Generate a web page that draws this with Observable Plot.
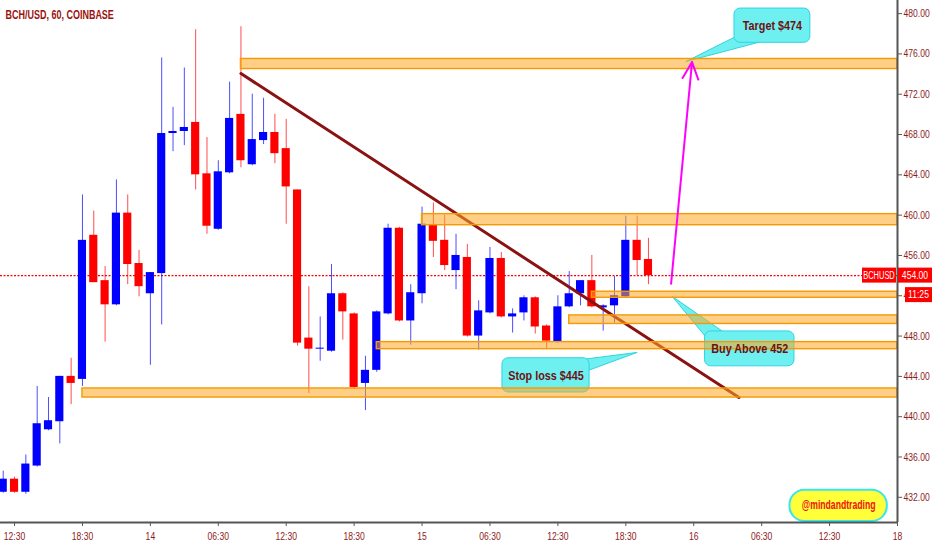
<!DOCTYPE html>
<html><head><meta charset="utf-8">
<script src="https://cdn.jsdelivr.net/npm/d3@7"></script>
<script src="https://cdn.jsdelivr.net/npm/@observablehq/plot@0.6"></script>
<style>
html,body{margin:0;padding:0;background:#fff;}
#chart{width:932px;height:550px;overflow:hidden;}
</style></head><body><div id="chart"></div>
<script>
// ---- data ----
const barIndex = d3.range(-1, 57); // hourly bars, 0 = 13th 12:30
const opens  = [432.5,433.8,432.5,435.1,438.7,439.5,444.0,443.7,458.0,453.5,451.1,460.2,455.2,452.2,454.2,468.1,468.3,469.2,464.1,458.6,464.2,470.0,465.0,467.4,468.2,466.6,462.5,447.8,446.7,446.5,452.2,450.2,443.3,444.6,450.2,458.7,449.5,452.2,459.0,457.5,454.5,455.8,448.0,450.3,455.7,449.9,450.3,451.8,449.0,447.4,450.9,452.2,453.5,450.8,451.0,451.9,457.5,455.6];
const highs  = [434.6,434.0,436.2,443.0,441.9,444.0,445.8,462.0,460.4,454.9,463.5,462.0,456.5,454.3,475.6,470.7,474.6,478.4,467.7,465.4,473.2,478.7,472.0,471.6,470.0,469.5,462.5,452.9,449.9,455.1,452.3,450.3,446.0,450.5,459.1,458.8,453.1,460.8,461.2,460.0,458.1,457.1,451.5,456.8,456.3,450.7,452.0,451.9,449.1,452.0,454.4,453.5,456.0,451.1,453.9,459.9,459.9,457.7];
const lows   = [432.4,432.4,432.3,435.0,438.6,437.3,441.2,443.0,453.3,447.4,451.0,453.1,451.9,445.1,449.1,466.3,466.9,462.5,458.1,458.5,464.1,464.7,464.9,467.0,465.1,459.1,447.0,442.3,445.5,446.4,447.6,442.7,440.6,444.4,450.1,449.4,447.1,451.2,455.8,454.5,452.6,447.9,446.6,450.2,449.8,448.3,449.5,448.2,446.7,447.3,450.8,451.0,450.8,448.5,449.3,451.8,454.0,453.1];
const closes = [433.8,432.5,435.3,439.3,439.6,444.0,443.3,457.5,453.3,451.1,460.2,455.1,452.9,454.3,468.1,468.3,468.7,464.0,458.9,464.3,469.6,465.4,467.5,468.2,466.1,462.8,447.3,446.7,446.8,452.2,450.4,442.9,444.6,450.4,458.7,449.5,452.3,459.1,457.4,455.0,456.0,448.0,450.5,455.7,449.9,450.2,451.8,448.9,447.5,450.9,452.2,453.5,450.9,451.0,452.0,457.5,455.5,454.0];
const lastPrice = 454.00;
const countdown = "11:25";
const symbol = "BCHUSD";
const titleText = "BCH/USD, 60, COINBASE";

const xTickIndex  = [0, 6, 12, 18, 24, 30, 36, 42, 48, 54, 60, 66, 72, 78];
const xTickLabels = ["12:30","18:30","14","06:30","12:30","18:30","15","06:30","12:30","18:30","16","06:30","12:30","18"];
const yTicks = [432, 436, 440, 444, 448, 452, 456, 460, 464, 468, 472, 476, 480];

// horizontal zones (start bar, low, high) extending to the right edge
const zoneStart = [20, 36, 51, 49, 32, 6];
const zoneLow   = [474.5, 459.0, 451.8, 449.2, 446.7, 441.9];
const zoneHigh  = [475.5, 460.1, 452.4, 450.05, 447.4, 442.8];

// trend line
const trendBar   = [20, 64];
const trendPrice = [474.05, 441.9];

// projection arrow
const arrowBar   = [58, 59.85];
const arrowPrice = [453.2, 475.2];

// callouts
const calloutText  = ["Target $474", "Buy Above 452", "Stop loss $445"];
const calloutBar1  = [63.6, 61.0, 43.1];
const calloutBar2  = [70.3, 68.9, 50.8];
const calloutLow   = [477.1, 445.0, 442.4];
const calloutHigh  = [480.5, 448.46, 445.8];
const calloutTipBar   = [59.3, 58.1, 55.0];
const calloutTipPrice = [475.24, 451.93, 446.38];
const calloutBaseBar   = [[64.2, 65.9], [61.3, 62.7], [49.6, 50.7]];
const calloutBasePrice = [[478.0, 477.2], [447.6, 448.35], [445.6, 444.6]];

const badgeText = "@mindandtrading";
const badgeBar = [68.5, 77.1];
const badgePrice = [429.6, 432.7];

// ---- build ----
const FONT = "'Liberation Sans',Arial,sans-serif";
const UP = "#0000ff", DOWN = "#ff0000";
const AXISTEXT = "#8e1b1b";

const bars = barIndex.map((i, k) => ({i, open: opens[k], high: highs[k], low: lows[k], close: closes[k],
  color: closes[k] >= opens[k] ? UP : DOWN}));
const zones = zoneStart.map((s, k) => ({x1: s, x2: 78, y1: zoneLow[k], y2: zoneHigh[k]}));
const trend = trendBar.map((b, k) => ({x: b, y: trendPrice[k]}));
const callouts = calloutText.map((t, k) => ({text: t, x1: calloutBar1[k], x2: calloutBar2[k], y1: calloutLow[k], y2: calloutHigh[k],
  cx: (calloutBar1[k] + calloutBar2[k]) / 2, cy: (calloutLow[k] + calloutHigh[k]) / 2}));
const tails = [];
calloutText.forEach((t, k) => {
  tails.push({id: k, x: calloutBaseBar[k][0], y: calloutBasePrice[k][0]});
  tails.push({id: k, x: calloutTipBar[k], y: calloutTipPrice[k]});
  tails.push({id: k, x: calloutBaseBar[k][1], y: calloutBasePrice[k][1]});
});
const labelMap = new Map(xTickIndex.map((d, k) => [d, xTickLabels[k]]));
const CYAN = "#6ef0f0", CYANS = "#2fd3e3";

const chart = Plot.plot({
  width: 932, height: 550,
  marginLeft: 0, marginTop: 0, marginRight: 35, marginBottom: 28,
  x: {domain: [-1.24, 78], axis: null},
  y: {domain: [429.5, 481.3], axis: null},
  color: {type: "identity"},
  style: {background: "#fff", fontFamily: FONT, overflow: "visible"},
  marks: [
    Plot.ruleY([lastPrice], {stroke: "#ff0000", strokeWidth: 1.3, strokeDasharray: "2,1.5"}),
    Plot.ruleX(bars, {x: "i", y1: "low", y2: "high", stroke: "color", strokeWidth: 1, strokeOpacity: 0.7}),
    Plot.rect(bars, {x1: d => d.i - 0.36, x2: d => d.i + 0.36, y1: "open", y2: "close", fill: "color"}),
    Plot.line(trend, {x: "x", y: "y", stroke: "#8b1212", strokeWidth: 3}),
    Plot.line(tails, {x: "x", y: "y", z: "id", fill: CYAN, stroke: CYANS, strokeWidth: 1, curve: "linear"}),
    Plot.rect(callouts, {x1: "x1", x2: "x2", y1: "y1", y2: "y2", fill: CYAN, stroke: CYANS, strokeWidth: 1, rx: 6}),
    Plot.rect(zones, {x1: "x1", x2: "x2", y1: "y1", y2: "y2", fill: "#ffa726", fillOpacity: 0.55, stroke: "#f59a00", strokeWidth: 1.4}),
    Plot.arrow([0], {x1: () => arrowBar[0], y1: () => arrowPrice[0], x2: () => arrowBar[1], y2: () => arrowPrice[1],
      stroke: "#ff00ff", strokeWidth: 2, headLength: 14, headAngle: 50}),
    Plot.text(callouts, {x: "cx", y: "cy", text: "text", fill: "#6e1010", fontSize: 13.5, fontWeight: "bold"}),
    Plot.rect([0], {x1: () => badgeBar[0], x2: () => badgeBar[1], y1: () => badgePrice[0], y2: () => badgePrice[1],
      fill: "#ffff3a", stroke: "#38e6f0", strokeWidth: 2, rx: 15}),
    Plot.text([badgeText], {x: (badgeBar[0] + badgeBar[1]) / 2, y: (badgePrice[0] + badgePrice[1]) / 2 + 0.1, text: d => d,
      fill: "#ee1111", fontSize: 12, fontWeight: "bold"}),
    Plot.text([titleText], {frameAnchor: "top-left", dx: 5, dy: 10, text: d => d, fill: "#9b1111", fontSize: 12.5, fontWeight: "bold"}),
    Plot.ruleY([429.5], {stroke: "#555", strokeWidth: 2}),
    Plot.ruleX([78], {stroke: "#555", strokeWidth: 2}),
    Plot.axisX({ticks: xTickIndex, tickFormat: d => labelMap.get(d), tickSize: 4, tickPadding: 6, fontSize: 11,
      stroke: "#555", fill: AXISTEXT}),
    Plot.axisY({anchor: "right", ticks: yTicks, tickFormat: d => d.toFixed(2), tickSize: 4, tickPadding: 2, fontSize: 11,
      stroke: "#555", fill: AXISTEXT})
  ]
});
document.getElementById("chart").appendChild(chart);

// price tags using the plot's own scales
const ys = chart.scale("y"), xs = chart.scale("x");
const yP = ys.apply(lastPrice);
const xR = xs.range[1];
const svg = d3.select(chart);
const tags = svg.append("g").attr("font-family", FONT).attr("font-size", 11);
function tag(x0, x1, yc, txt) {
  tags.append("rect").attr("x", x0).attr("y", yc - 7.5).attr("width", x1 - x0).attr("height", 15).attr("fill", "#ff0000");
  tags.append("text").attr("x", (x0 + x1) / 2).attr("y", yc).attr("dy", "0.35em").attr("text-anchor", "middle")
    .attr("fill", "#fff").text(txt);
}
tag(xR - 35, xR - 1, yP, symbol);
tag(xR + 1, xR + 35, yP, lastPrice.toFixed(2));
tag(xR + 8, xR + 35, yP + 19.5, countdown);

// narrow the lettering horizontally (the original uses a condensed face)
const squeeze = {"BCHUSD": 0.68, "@mindandtrading": 0.72, "Target $474": 0.8, "Stop loss $445": 0.8, "Buy Above 452": 0.8};
squeeze[titleText] = 0.72;
svg.selectAll("text").each(function () {
  const f = squeeze[this.textContent] || 0.78;
  const ax = +(this.getAttribute("x") || 0);
  const prev = this.getAttribute("transform") || "";
  this.setAttribute("transform", `${prev} translate(${ax},0) scale(${f},1) translate(${-ax},0)`.trim());
});
</script></body></html>
